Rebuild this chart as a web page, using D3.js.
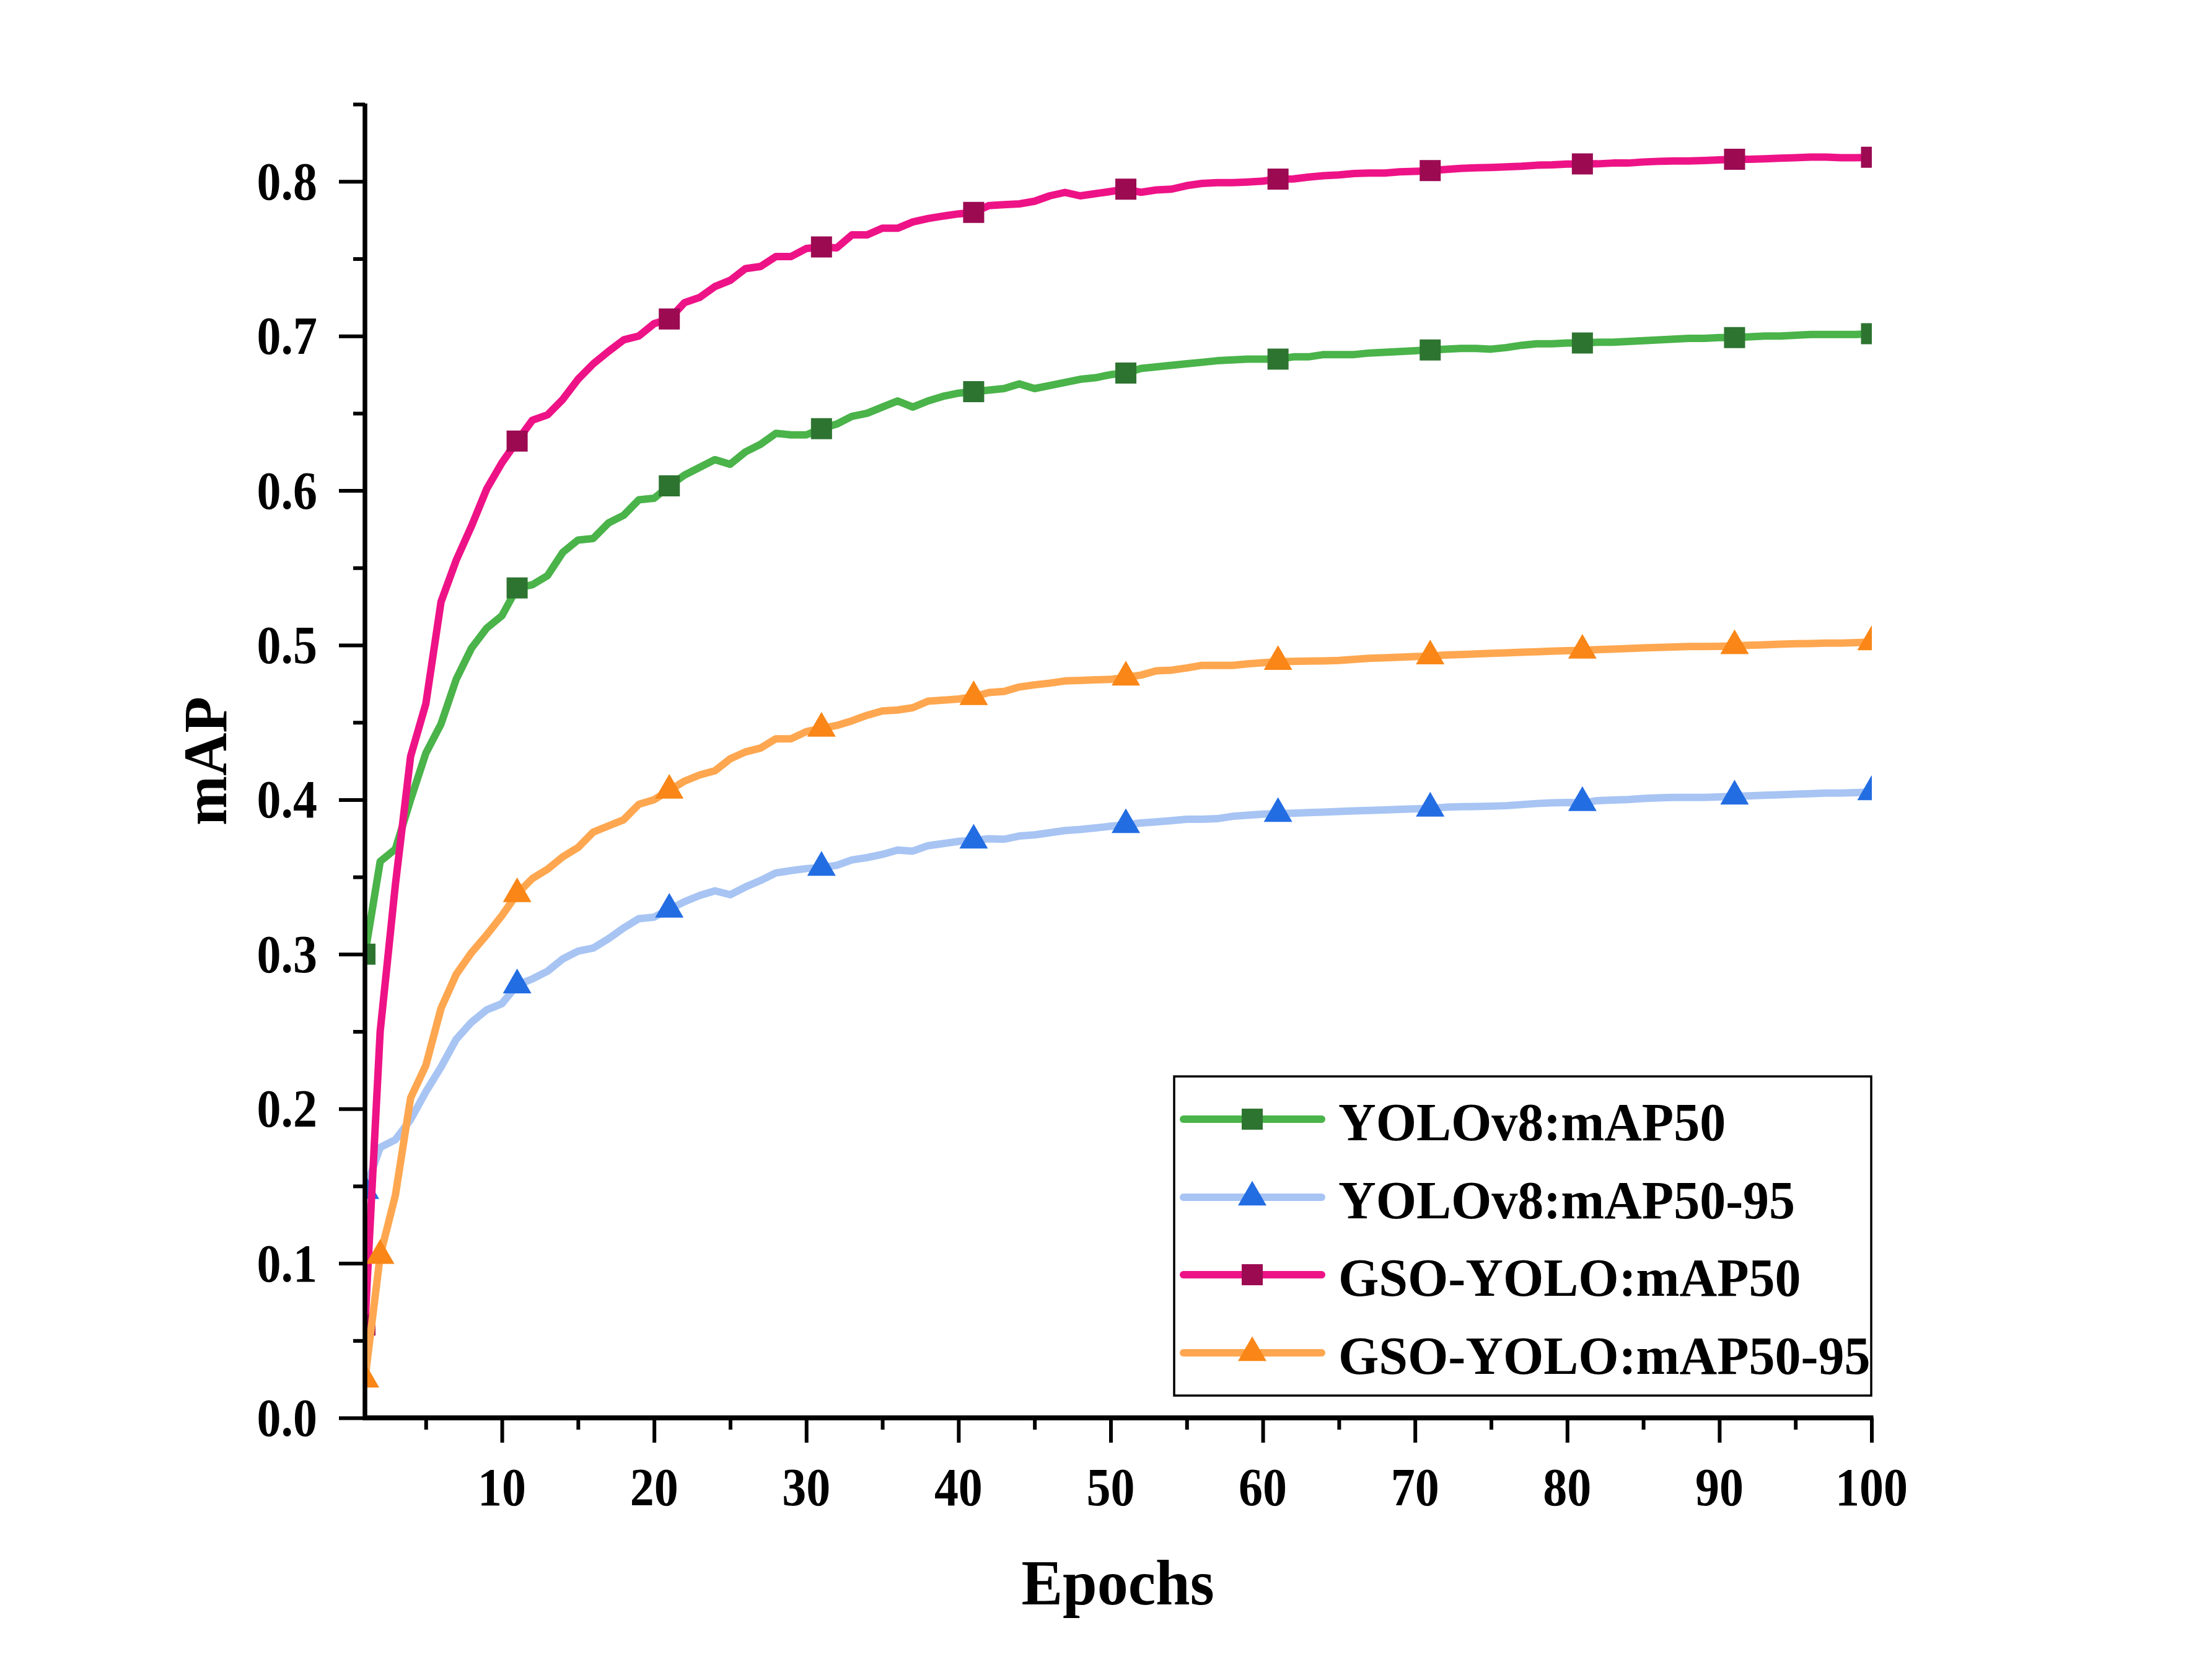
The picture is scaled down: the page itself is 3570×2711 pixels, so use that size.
<!DOCTYPE html>
<html><head><meta charset="utf-8">
<script src="https://cdn.jsdelivr.net/npm/d3@7"></script>
<style>html,body{margin:0;padding:0;background:#fff;} svg{display:block;}</style>
</head><body>
<script>
const epochs = [1,2,3,4,5,6,7,8,9,10,11,12,13,14,15,16,17,18,19,20,21,22,23,24,25,26,27,28,29,30,31,32,33,34,35,36,37,38,39,40,41,42,43,44,45,46,47,48,49,50,51,52,53,54,55,56,57,58,59,60,61,62,63,64,65,66,67,68,69,70,71,72,73,74,75,76,77,78,79,80,81,82,83,84,85,86,87,88,89,90,91,92,93,94,95,96,97,98,99,100];

const yolov8Map50 = [0.300,0.360,0.368,0.400,0.430,0.449,0.478,0.498,0.511,0.519,
0.537,0.539,0.545,0.560,0.568,0.569,0.579,0.584,0.594,0.595,
0.603,0.610,0.615,0.620,0.617,0.625,0.630,0.637,0.636,0.636,
0.640,0.643,0.648,0.650,0.654,0.658,0.654,0.658,0.661,0.663,
0.664,0.665,0.666,0.669,0.666,0.668,0.670,0.672,0.673,0.675,
0.676,0.679,0.680,0.681,0.682,0.683,0.684,0.6845,0.685,0.685,
0.685,0.6865,0.6865,0.688,0.688,0.688,0.689,0.6895,0.690,0.6905,
0.691,0.6915,0.692,0.692,0.6915,0.6925,0.694,0.695,0.695,0.6955,
0.6955,0.696,0.696,0.6965,0.697,0.6975,0.698,0.6985,0.6985,0.699,
0.699,0.6995,0.700,0.700,0.7005,0.701,0.701,0.701,0.701,0.7015];

const yolov8Map5095 = [0.147,0.175,0.180,0.193,0.211,0.227,0.245,0.256,0.264,0.268,
0.280,0.284,0.289,0.297,0.302,0.304,0.310,0.317,0.323,0.324,
0.329,0.334,0.338,0.341,0.3385,0.3435,0.3477,0.3526,0.3541,0.3554,
0.3561,0.3575,0.361,0.3625,0.3646,0.3674,0.3667,0.3702,0.3716,0.373,
0.3737,0.3747,0.3744,0.3765,0.3772,0.3786,0.380,0.3807,0.3817,0.3828,
0.3837,0.3849,0.3856,0.3864,0.3873,0.3873,0.3877,0.3892,0.3899,0.3906,
0.3909,0.3912,0.3916,0.3919,0.3923,0.3927,0.393,0.3933,0.3937,0.394,
0.3944,0.3951,0.3954,0.3955,0.3958,0.3961,0.3968,0.3975,0.398,0.3982,
0.398,0.3994,0.3998,0.4001,0.4008,0.4012,0.4015,0.4015,0.4015,0.4018,
0.4022,0.4025,0.4029,0.4032,0.4036,0.4039,0.4043,0.4043,0.4046,0.405];

const gsoMap50 = [0.060,0.250,0.345,0.428,0.462,0.528,0.555,0.577,0.601,0.618,
0.632,0.6455,0.649,0.659,0.672,0.682,0.690,0.6975,0.700,0.708,
0.711,0.7216,0.725,0.732,0.736,0.7436,0.745,0.7514,0.7514,0.7566,
0.7576,0.757,0.7654,0.7654,0.7697,0.7697,0.7738,0.776,0.7776,0.779,
0.780,0.7844,0.785,0.7855,0.7872,0.7907,0.7929,0.7907,0.7921,0.7935,
0.795,0.793,0.7945,0.795,0.7973,0.7987,0.7992,0.7992,0.7996,0.8002,
0.8015,0.8016,0.8028,0.8037,0.8042,0.8051,0.8054,0.8054,0.8062,0.8065,
0.807,0.8077,0.8084,0.8088,0.809,0.8094,0.8098,0.8105,0.8107,0.8112,
0.8113,0.8114,0.8119,0.8119,0.8126,0.813,0.8133,0.8133,0.8136,0.814,
0.8144,0.8144,0.8147,0.8151,0.8154,0.8158,0.8158,0.8154,0.8154,0.8157];

const gsoMap5095 = [0.025,0.105,0.144,0.207,0.228,0.265,0.287,0.301,0.3125,0.325,
0.339,0.349,0.355,0.363,0.369,0.379,0.383,0.387,0.397,0.400,
0.406,0.412,0.416,0.4187,0.4264,0.4309,0.4334,0.4394,0.4394,0.444,
0.4461,0.448,0.451,0.4546,0.4574,0.458,0.4595,0.4637,0.4644,0.4651,
0.4665,0.4693,0.470,0.4729,0.4743,0.4754,0.4768,0.4771,0.4775,0.4778,
0.4792,0.4806,0.4834,0.4838,0.4852,0.4869,0.4869,0.4869,0.4879,0.4886,
0.4893,0.4895,0.4897,0.4898,0.4901,0.4908,0.4915,0.4918,0.4922,0.4926,
0.4929,0.4936,0.4939,0.4943,0.4947,0.495,0.4954,0.4957,0.4961,0.4964,
0.4966,0.4971,0.4974,0.4978,0.4982,0.4985,0.4988,0.4991,0.4991,0.4992,
0.4995,0.4999,0.5002,0.5006,0.5009,0.501,0.5013,0.5013,0.5016,0.502];

const seriesNames = ["YOLOv8:mAP50","YOLOv8:mAP50-95","GSO-YOLO:mAP50","GSO-YOLO:mAP50-95"];
const markerEpochs = [1,11,21,31,41,51,61,71,81,91,100];
const orangeMarkerEpochs = [1,2,11,21,31,41,51,61,71,81,91,100];
const xMajorTicks = [10,20,30,40,50,60,70,80,90,100];
const xMinorTicks = [5,15,25,35,45,55,65,75,85,95];
const yMajorTicks = [0,0.1,0.2,0.3,0.4,0.5,0.6,0.7,0.8];
const yMinorTicks = [0.05,0.15,0.25,0.35,0.45,0.55,0.65,0.75,0.85];
const xTitle = "Epochs";
const yTitle = "mAP";

const series = [
  {name: seriesNames[0], values: yolov8Map50, line:"#4AB34A", mark:"#2E7431", shape:"square", marks: markerEpochs},
  {name: seriesNames[1], values: yolov8Map5095, line:"#A7C4F3", mark:"#236DE3", shape:"triangle", marks: markerEpochs},
  {name: seriesNames[2], values: gsoMap50, line:"#EE1287", mark:"#9C0A52", shape:"square", marks: markerEpochs},
  {name: seriesNames[3], values: gsoMap5095, line:"#FEA750", mark:"#F98617", shape:"triangle", marks: orangeMarkerEpochs}
];

const W = 3570, H = 2711;
const FONT = "'Liberation Serif','Times New Roman',serif";
const svg = d3.select("body").append("svg").attr("width", W).attr("height", H)
  .style("background", "#fff");

const x = d3.scaleLinear().domain([1,100]).range([589, 3020.5]);
const y = d3.scaleLinear().domain([0,0.85]).range([2288, 168.1]);

const defs = svg.append("defs");
defs.append("clipPath").attr("id","plotclip").append("rect")
  .attr("x", x(1)).attr("y", 100).attr("width", x(100)-x(1)+0.5).attr("height", y(0)-100);

const sym = {
  square: d3.symbol().type(d3.symbolSquare).size(34*34),
  triangle: d3.symbol().type(d3.symbolTriangle).size(Math.sqrt(3)/4*46*46)
};

const plot = svg.append("g").attr("clip-path","url(#plotclip)");
const lineGen = d3.line().x(d => x(d[0])).y(d => y(d[1]));

series.forEach(s => {
  const pts = epochs.map((e,i) => [e, s.values[i]]);
  const g = plot.append("g");
  g.append("path").attr("d", lineGen(pts)).attr("fill","none")
    .attr("stroke", s.line).attr("stroke-width", 12)
    .attr("stroke-linejoin","round").attr("stroke-linecap","butt");
  g.selectAll("path.m").data(s.marks).enter().append("path").attr("class","m")
    .attr("d", sym[s.shape]())
    .attr("transform", e => `translate(${x(e)},${y(s.values[epochs.indexOf(e)])})`)
    .attr("fill", s.mark);
});

// text helper with vertical stretch
function label(parent, tx, ty, str, size, anchor, sy, rot) {
  const g = parent.append("g").attr("transform", `translate(${tx},${ty})` + (rot ? ` rotate(${rot})` : "") + ` scale(1,${sy})`);
  g.append("text").attr("x",0).attr("y",0).attr("text-anchor",anchor)
    .attr("font-family", FONT).attr("font-weight","bold").attr("font-size", size)
    .attr("fill","#000").text(str);
  return g;
}

// X axis
const xAxisG = svg.append("g");
xAxisG.append("g").attr("transform","translate(0,2288)")
  .call(d3.axisBottom(x).tickValues(xMajorTicks).tickSize(40).tickFormat(""))
  .call(g => g.select(".domain").remove())
  .call(g => g.selectAll("line").attr("stroke","#000").attr("stroke-width",6));
xAxisG.append("g").attr("transform","translate(0,2288)")
  .call(d3.axisBottom(x).tickValues(xMinorTicks).tickSize(19).tickFormat(""))
  .call(g => g.select(".domain").remove())
  .call(g => g.selectAll("line").attr("stroke","#000").attr("stroke-width",6));
xMajorTicks.forEach(v => label(svg, x(v), 2429, String(v), 78, "middle", 1.12));

// Y axis
const yAxisG = svg.append("g");
yAxisG.append("g").attr("transform","translate(589,0)")
  .call(d3.axisLeft(y).tickValues(yMajorTicks).tickSize(42).tickFormat(""))
  .call(g => g.select(".domain").remove())
  .call(g => g.selectAll("line").attr("stroke","#000").attr("stroke-width",6));
yAxisG.append("g").attr("transform","translate(589,0)")
  .call(d3.axisLeft(y).tickValues(yMinorTicks).tickSize(19).tickFormat(""))
  .call(g => g.select(".domain").remove())
  .call(g => g.selectAll("line").attr("stroke","#000").attr("stroke-width",6));
yMajorTicks.forEach(v => label(svg, 512, y(v) + 29, v.toFixed(1), 78, "end", 1.12));

// axis lines
svg.append("line").attr("x1", 589).attr("x2", 589).attr("y1", y(0.85)-1).attr("y2", 2292)
  .attr("stroke","#000").attr("stroke-width",7.5);
svg.append("line").attr("x1", 586).attr("x2", x(100)+3).attr("y1", 2288).attr("y2", 2288)
  .attr("stroke","#000").attr("stroke-width",8);

// Titles
label(svg, 1804, 2589, xTitle, 100, "middle", 1.03);
label(svg, 365, 1228, yTitle, 96, "middle", 1.03, -90);

// Legend
const lg = svg.append("g");
lg.append("rect").attr("x",1895).attr("y",1737).attr("width",1125).attr("height",515)
  .attr("fill","#fff").attr("stroke","#000").attr("stroke-width",3.5);
const rowY = [1806, 1932, 2057, 2183];
series.forEach((s,i) => {
  lg.append("line").attr("x1",1910).attr("x2",2133).attr("y1",rowY[i]).attr("y2",rowY[i])
    .attr("stroke", s.line).attr("stroke-width",12).attr("stroke-linecap","round");
  lg.append("path").attr("d", sym[s.shape]()).attr("transform",`translate(2021,${rowY[i]})`)
    .attr("fill", s.mark);
  label(lg, 2160, rowY[i] + 34, s.name, 84, "start", 1.03);
});
</script>
</body></html>
